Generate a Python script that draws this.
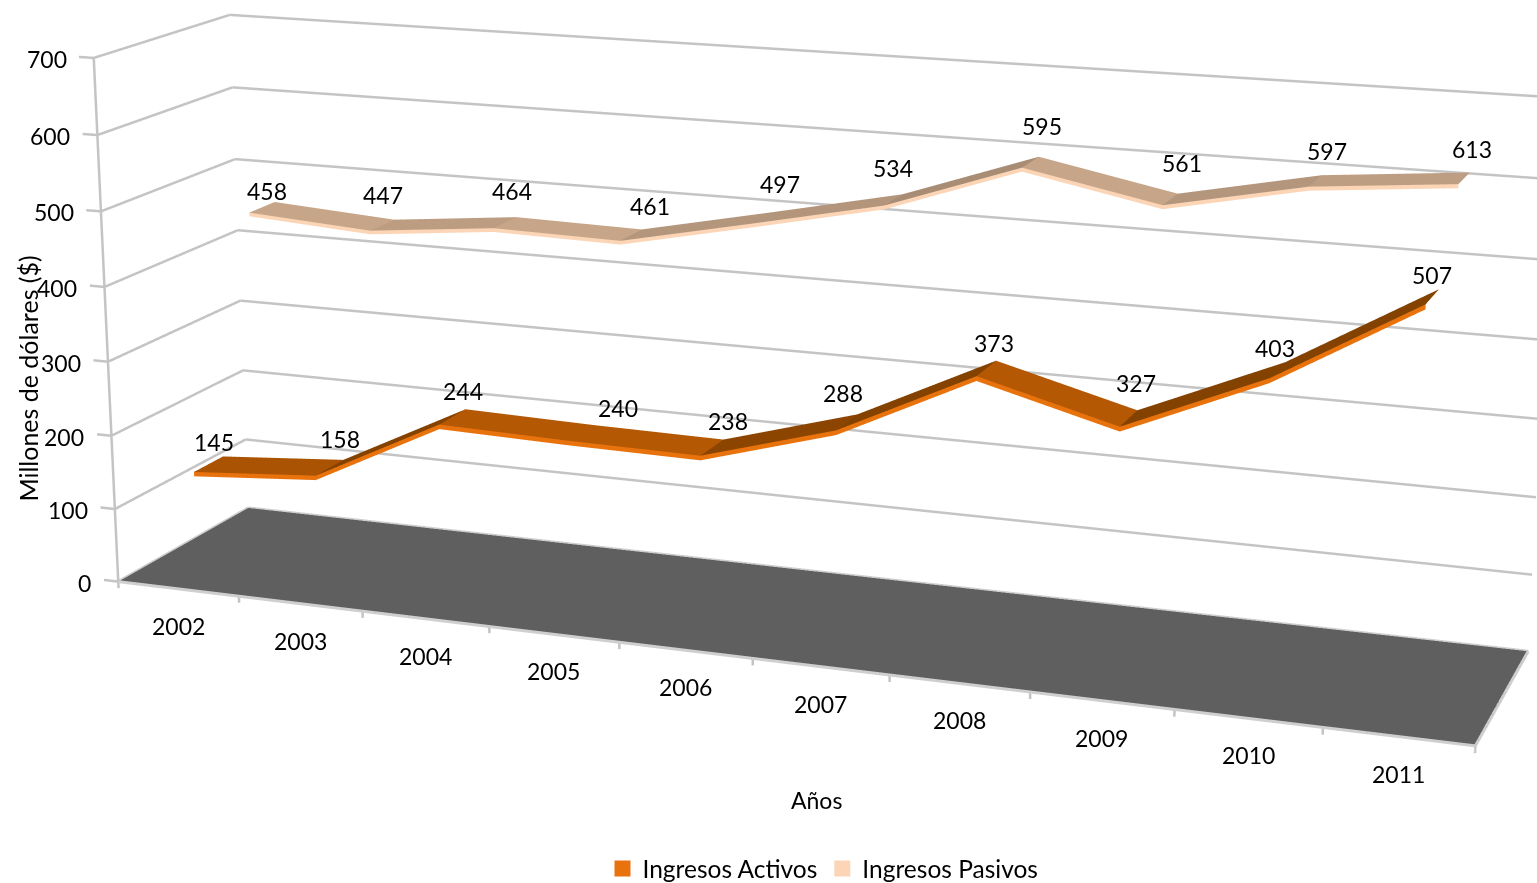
import numpy as np, plotly.graph_objects as go

# ---------- data ----------
years = ["2002","2003","2004","2005","2006","2007","2008","2009","2010","2011"]
activos = [145,158,244,240,238,288,373,327,403,507]
pasivos = [458,447,464,461,497,534,595,561,597,613]
z_ticks = [0,100,200,300,400,500,600,700]

# ---------- label nudges (pixels, right / down) ----------
act_dx = [4,9,9,36,15,-5,7,7,-3,-1]
act_dy = [9,2,5,6,4,1,5,-5,9,9]
pas_dx = [4,-1,6,18,19,-1,11,11,11,7]
pas_dy = [14,0,-1,1,-4,-1,-6,-6,1,1]

# ---------- styles ----------
FONT = "Lato"; FS = 23
GRID = "#c4c4c4"; FLOOR = "#5f5f5f"; RIM = "#cfcfcf"
ACT_FRONT = "#E8720C"; PAS_FRONT = "#FBD5B5"
ACT_TOP = np.array([0xB4,0x58,0x04]); ACT_DARK = np.array([0x84,0x42,0x00])
PAS_TOP = np.array([0xC6,0xA5,0x88]); PAS_DARK = np.array([0xA8,0x8C,0x74])
ACT_Y = (0.15,0.37); PAS_Y = (0.64,0.84)

# ---------- view (perspective camera solved from the wall corners) ----------
F = 3790.71; CY = 359.38; W = 1537
H = int(round(2*F*np.tan(np.pi/8)))
TOP = CY - H/2
Lx, Ly, Lz = 1.0, 0.2012, 0.3904
def rod(w):
    w=np.array(w,float); th=np.linalg.norm(w); k=w/th
    K=np.array([[0,-k[2],k[1]],[k[2],0,-k[0]],[-k[1],k[0],0]])
    return np.eye(3)+np.sin(th)*K+(1-np.cos(th))*K@K
R = rod([0.25,0.3576,0.0436])@np.array([[1,0,0],[0,0,-1],[0,1,0]],float)
t = np.array([-0.4790,0.1640,2.7921])
xr=[-0.2,10.0]; yr=[0.0,1.0]; zr=[-15.0,715.0]
sx,sy,sz = Lx/10, Ly, Lz/700
box_c = np.array([sx*np.mean(xr), sy*np.mean(yr), sz*np.mean(zr)])
aspect = dict(x=sx*(xr[1]-xr[0]), y=sy*(yr[1]-yr[0]), z=sz*(zr[1]-zr[0]))
eye_w = -R.T@t
fwd = R.T@np.array([0,0,1.0]); up = R.T@np.array([0,-1.0,0])
eye = eye_w-box_c; cen = eye+fwd*2.5
cv = lambda a: dict(x=float(a[0]),y=float(a[1]),z=float(a[2]))
paper_x = lambda px: px/W
paper_y = lambda py: 1-(py-TOP)/H

fig = go.Figure()
FLAT = dict(ambient=1,diffuse=0,specular=0,roughness=1,fresnel=0)

# floor
fig.add_trace(go.Mesh3d(x=[0,10,10,0],y=[0,0,1,1],z=[0,0,0,0],i=[0,0],j=[1,2],k=[2,3],
    color=FLOOR,lighting=FLAT,flatshading=True,showlegend=False,hoverinfo="skip"))

def lines3d(segs,color,width):
    xs,ys,zs=[],[],[]
    for a,b in segs:
        xs+=[a[0],b[0],None]; ys+=[a[1],b[1],None]; zs+=[a[2],b[2],None]
    fig.add_trace(go.Scatter3d(x=xs,y=ys,z=zs,mode="lines",line=dict(color=color,width=width),
        showlegend=False,hoverinfo="skip"))

# walls
segs=[]
for v in z_ticks:
    segs.append(((0,0,v),(0,1,v)))
    segs.append(((0,1,v),(10,1,v)))
    segs.append(((-0.12,0,v),(0,0,v)))
segs.append(((0,0,0),(0,0,700)))
for i in range(len(years)+1):
    segs.append(((i,0,0),(i,0,-9)))
lines3d(segs,GRID,5)
lines3d([((0,0,0),(10,0,0)),((10,0,0),(10,1,0)),((0,1,0),(10,1,0)),((0,0,0),(0,1,0))],RIM,6)

def ribbon(vals,y0,y1,th,top,dark,front):
    n=len(vals); xs=[i+.5 for i in range(n)]
    X,Y,Z,I,J,K,FC=[],[],[],[],[],[],[]
    for s in range(n-1):
        a,b=vals[s],vals[s+1]
        m=min(max((b-a)/60.0,0),1)
        c=top*(1-m)+dark*m
        col="rgb(%d,%d,%d)"%tuple(c)
        b0=len(X)
        X+=[xs[s],xs[s+1],xs[s+1],xs[s]]; Y+=[y0,y0,y1,y1]; Z+=[a,b,b,a]
        I+=[b0,b0]; J+=[b0+1,b0+2]; K+=[b0+2,b0+3]; FC+=[col,col]
        b0=len(X)
        X+=[xs[s],xs[s+1],xs[s+1],xs[s]]; Y+=[y0,y0,y0,y0]; Z+=[a,b,b-th,a-th]
        I+=[b0,b0]; J+=[b0+1,b0+2]; K+=[b0+2,b0+3]; FC+=[front,front]
    fig.add_trace(go.Mesh3d(x=X,y=Y,z=Z,i=I,j=J,k=K,facecolor=FC,lighting=FLAT,flatshading=True,
        showlegend=False,hoverinfo="skip"))

ribbon(activos,ACT_Y[0],ACT_Y[1],6,ACT_TOP,ACT_DARK,ACT_FRONT)
ribbon(pasivos,PAS_Y[0],PAS_Y[1],5,PAS_TOP,PAS_DARK,PAS_FRONT)

# legend entries
for name,col in (("Ingresos Activos",ACT_FRONT),("Ingresos Pasivos",PAS_FRONT)):
    fig.add_trace(go.Scatter3d(x=[None],y=[None],z=[None],mode="markers",name=name,
        marker=dict(symbol="square",size=16,color=col),hoverinfo="skip"))

txt=dict(family=FONT,size=FS,color="#000000")
ann=[]
for i,y in enumerate(years):
    ann.append(dict(x=i+.5,y=0,z=0,text=y,showarrow=False,yshift=-37,font=txt))
for v in z_ticks:
    ann.append(dict(x=0,y=0,z=v,text=str(v),showarrow=False,xanchor="right",xshift=-25,yshift=-1,font=txt))
for vals,dep,dx,dy in ((activos,0.27,act_dx,act_dy),(pasivos,0.75,pas_dx,pas_dy)):
    for i,v in enumerate(vals):
        ann.append(dict(x=i+.5,y=dep,z=v,text=str(v),showarrow=False,xshift=dx[i],yshift=30-dy[i],font=txt))

ax=dict(visible=False,showspikes=False,showbackground=False)
fig.update_layout(
    width=W,height=H,margin=dict(l=0,r=0,t=0,b=0),paper_bgcolor="white",
    scene=dict(domain=dict(x=[0,1],y=[0,1]),
        xaxis=dict(range=xr,**ax),yaxis=dict(range=yr,**ax),zaxis=dict(range=zr,**ax),
        aspectmode="manual",aspectratio=aspect,
        camera=dict(eye=cv(eye),center=cv(cen),up=cv(up),projection=dict(type="perspective")),
        annotations=ann,dragmode=False),
    legend=dict(orientation="h",x=paper_x(823),xanchor="center",y=paper_y(869),yanchor="middle",
        font=dict(family=FONT,size=24.5,color="#000000"),bgcolor="rgba(0,0,0,0)"),
    annotations=[
        dict(x=paper_x(816),y=paper_y(800),xref="paper",yref="paper",text="Años",showarrow=False,
             xanchor="center",yanchor="middle",font=txt),
        dict(x=paper_x(28),y=paper_y(379),xref="paper",yref="paper",text="Millones de dólares ($)",
             textangle=-90,showarrow=False,xanchor="center",yanchor="middle",font=dict(family=FONT,size=25,color="#000000")),
    ])
post = ("document.documentElement.style.overflow='hidden';document.body.style.overflow='hidden';"
        "document.body.style.margin='0';var d=document.getElementById('{plot_id}');"
        "d.style.position='fixed';d.style.left='0px';d.style.top='%dpx';" % round(TOP))
fig.write_html("out.html",post_script=post,config=dict(displayModeBar=False))
